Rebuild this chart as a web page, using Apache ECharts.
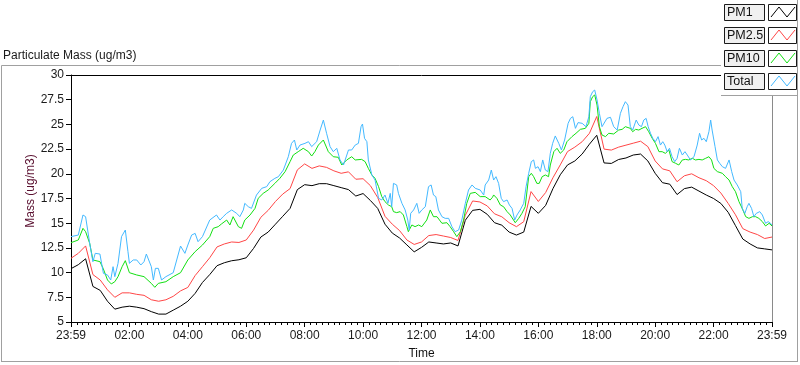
<!DOCTYPE html>
<html>
<head>
<meta charset="utf-8">
<script src="https://cdn.jsdelivr.net/npm/echarts@6/dist/echarts.min.js"></script>
<style>
html,body{margin:0;padding:0;background:#fff;}
#chart{width:800px;height:365px;}
</style>
</head>
<body>
<div id="chart"></div>
<script>
// Time axis in hours after 23:59 of the previous day (0 = 23:59, 24 = 23:59)
var seriesNames = ['PM1', 'PM2.5', 'PM10', 'Total'];
var seriesColors = ['#000000', '#ff4646', '#12e012', '#43b9ff'];

// PM1 and PM2.5: sampled every 15 minutes
var gridStepHours = 0.25;
var pm1 = [
10.4,10.8,11.4,8.6,8.2,7.1,6.3,6.5,6.6,6.5,6.35,6.05,5.8,5.8,6.2,6.6,7.1,7.9,9.0,9.8,
10.7,11.0,11.2,11.3,11.5,12.45,13.6,14.1,14.9,15.7,16.5,18.4,18.9,18.8,19.0,19.0,18.8,18.6,18.4,17.75,
18.0,17.3,16.5,14.9,14.0,13.5,12.8,12.1,12.55,13.1,13.0,12.9,13.0,12.7,15.3,16.3,16.4,15.9,15.05,14.8,
14.1,13.8,14.1,16.7,16.0,16.8,18.5,19.9,20.9,21.3,22.0,23.0,23.9,21.1,21.05,21.45,21.6,21.9,22.0,21.3,
20.05,19.1,18.95,17.9,18.5,18.65,18.25,17.85,17.5,17.0,16.1,14.75,13.4,12.9,12.5,12.4,12.3
];
var pm25 = [
11.45,11.95,12.7,9.8,9.25,8.25,7.5,7.95,7.95,7.8,7.7,7.25,7.1,7.25,7.6,8.15,8.5,9.7,10.6,11.5,
12.6,12.9,13.1,13.05,13.3,14.3,15.6,16.3,17.2,17.95,18.5,20.4,21.0,20.55,20.8,20.65,20.3,20.05,20.2,19.45,
19.5,18.8,17.6,15.7,14.9,14.25,13.3,12.85,13.1,13.75,13.85,13.7,13.55,13.25,15.8,17.25,17.15,16.75,15.95,15.65,
15.05,14.65,15.15,18.2,17.2,18.1,19.6,20.9,22.25,22.7,23.25,24.1,25.8,22.5,22.4,22.7,22.9,23.1,23.3,22.75,
21.3,20.5,20.3,19.2,19.8,20.0,19.6,19.3,18.8,18.05,17.0,15.85,14.45,14.1,13.85,13.45,13.6
];

// PM10: read at irregular times (hours)
var pm10Hours = [
0.00,0.25,0.41,0.50,0.64,0.75,0.99,1.10,1.25,1.38,1.50,1.61,1.75,1.86,2.00,2.25,2.50,2.75,2.87,2.99,
3.25,3.50,3.75,4.00,4.25,4.50,4.75,4.87,5.04,5.15,5.33,5.44,5.55,5.73,5.84,5.95,6.13,6.30,6.41,6.58,
6.75,6.98,7.15,7.33,7.50,7.61,7.78,7.95,8.13,8.24,8.35,8.47,8.64,8.81,8.98,9.15,9.27,9.44,9.61,9.73,
9.95,10.07,10.18,10.30,10.41,10.53,10.64,10.75,10.87,10.98,11.04,11.15,11.27,11.38,11.50,11.55,11.67,11.78,11.90,12.01,
12.18,12.30,12.41,12.53,12.70,12.87,12.98,13.10,13.21,13.33,13.44,13.55,13.67,13.84,14.01,14.18,14.35,14.43,14.47,14.58,
14.70,14.81,14.93,15.04,15.15,15.21,15.33,15.44,15.55,15.67,15.76,15.84,15.95,16.03,16.13,16.24,16.35,16.41,16.53,16.64,
16.75,16.87,16.98,17.15,17.29,17.44,17.61,17.73,17.78,17.86,17.93,18.01,18.09,18.18,18.30,18.41,18.58,18.75,18.87,18.98,
19.15,19.23,19.33,19.44,19.55,19.67,19.78,19.90,20.01,20.13,20.24,20.35,20.47,20.58,20.70,20.81,20.93,21.04,21.15,21.27,
21.38,21.50,21.61,21.73,21.84,21.93,22.01,22.13,22.30,22.41,22.53,22.64,22.75,22.87,22.98,23.10,23.21,23.33,23.44,23.55,
23.67,23.78,23.90,24.00
];
var pm10Values = [
13.03,13.30,14.48,14.14,12.96,11.28,11.11,10.43,9.25,8.85,9.08,9.59,10.60,11.21,9.99,9.76,9.59,8.91,8.51,8.91,
9.08,9.59,9.99,11.28,12.12,12.79,13.64,14.48,14.65,14.92,15.32,14.82,15.66,14.65,14.48,15.32,15.83,16.50,17.52,18.02,
18.36,19.03,19.54,20.22,21.23,21.90,22.24,22.58,22.24,21.80,22.24,22.91,23.42,22.24,21.73,21.67,20.89,21.40,21.73,21.40,
21.46,21.23,20.55,19.88,19.54,18.70,17.69,17.18,16.84,16.67,16.17,16.07,16.17,15.83,14.65,14.14,14.82,14.65,14.82,14.65,
15.32,16.34,15.66,15.66,14.99,15.05,14.65,14.14,13.64,14.14,15.32,17.01,18.02,18.12,17.69,17.69,17.35,17.62,17.86,17.52,
16.84,16.67,16.17,15.83,15.32,15.05,15.49,16.00,16.67,19.71,20.05,19.71,19.03,19.03,19.71,19.88,19.71,20.89,22.24,22.58,
22.07,22.41,23.25,23.76,24.10,24.50,24.60,25.11,27.30,27.81,27.98,26.96,24.77,23.93,23.76,24.10,24.03,24.43,24.50,24.77,
24.60,24.26,24.50,24.43,24.60,24.77,24.26,23.59,23.08,22.24,22.24,22.07,22.41,21.23,21.06,20.89,21.40,21.46,21.40,21.57,
21.40,21.46,21.40,21.57,21.73,21.40,20.55,20.22,20.05,19.71,19.37,18.70,18.19,17.18,16.50,15.66,15.49,15.66,15.66,15.49,
15.16,14.72,14.99,14.72
];

// Total: read at irregular times (hours)
var totalHours = [
0.00,0.25,0.41,0.50,0.64,0.75,0.83,0.99,1.11,1.25,1.36,1.44,1.50,1.61,1.73,1.86,1.95,2.00,2.13,2.25,
2.39,2.50,2.58,2.75,2.82,2.89,2.99,3.10,3.25,3.50,3.75,3.90,4.00,4.13,4.25,4.35,4.50,4.75,4.81,4.98,
5.10,5.21,5.33,5.50,5.67,5.78,5.90,5.95,6.07,6.18,6.35,6.53,6.70,6.81,6.98,7.10,7.27,7.44,7.55,7.65,
7.73,7.84,8.01,8.13,8.24,8.41,8.53,8.64,8.75,8.87,8.98,9.10,9.21,9.33,9.50,9.61,9.73,9.84,9.93,9.98,
10.05,10.13,10.18,10.30,10.41,10.53,10.64,10.75,10.85,10.93,10.98,11.04,11.15,11.21,11.33,11.44,11.53,11.58,11.63,11.73,
11.84,11.92,12.01,12.13,12.24,12.33,12.41,12.49,12.58,12.70,12.81,12.93,13.04,13.15,13.27,13.38,13.50,13.61,13.73,13.84,
14.01,14.13,14.18,14.30,14.39,14.47,14.55,14.64,14.73,14.81,14.93,15.01,15.10,15.19,15.27,15.38,15.50,15.58,15.67,15.76,
15.84,15.90,15.99,16.07,16.15,16.24,16.33,16.41,16.49,16.58,16.70,16.79,16.90,17.02,17.10,17.18,17.27,17.36,17.50,17.63,
17.73,17.78,17.86,17.93,18.01,18.09,18.18,18.24,18.35,18.47,18.58,18.70,18.81,18.90,18.98,19.07,19.15,19.23,19.35,19.44,
19.53,19.61,19.69,19.76,19.84,19.92,20.01,20.10,20.18,20.26,20.33,20.41,20.49,20.58,20.67,20.75,20.83,20.93,21.02,21.10,
21.21,21.33,21.44,21.52,21.59,21.67,21.75,21.84,21.90,21.95,22.05,22.13,22.21,22.30,22.41,22.53,22.62,22.70,22.81,22.93,
22.98,23.07,23.15,23.21,23.30,23.38,23.46,23.58,23.67,23.78,23.87,23.95,24.00
];
var totalValues = [
13.64,13.80,15.83,15.66,12.96,11.10,11.95,11.88,9.92,9.76,9.25,10.60,9.59,10.94,13.64,14.31,12.12,10.94,11.28,11.28,
10.77,11.10,11.88,10.60,9.25,10.43,10.43,9.25,9.59,9.99,12.69,11.95,12.79,13.80,13.97,13.13,13.64,15.32,15.49,15.83,
15.32,15.66,16.00,16.34,16.00,15.66,16.34,17.01,16.67,16.50,17.85,18.53,18.70,19.20,19.54,19.71,20.38,21.73,23.08,23.42,
22.41,22.91,23.08,23.25,22.75,23.25,24.43,25.44,24.10,22.75,22.24,22.58,21.40,20.89,22.41,22.41,22.91,23.08,24.77,25.04,
23.59,23.25,21.40,19.88,19.37,17.52,17.35,17.85,17.01,18.02,16.67,19.03,18.87,18.02,17.01,16.34,15.32,14.31,16.00,16.34,
17.01,16.00,16.34,16.67,18.70,18.87,17.85,17.69,16.34,15.66,15.49,15.49,14.65,14.14,14.31,15.32,17.01,18.36,18.87,18.53,
18.36,17.85,18.87,19.37,20.38,19.37,19.71,19.03,17.52,17.18,17.35,16.84,16.50,15.32,15.83,16.34,17.01,18.70,20.05,21.23,
21.40,20.55,20.72,20.22,21.40,20.38,20.22,22.07,23.08,23.83,23.08,22.41,23.42,25.11,25.61,25.78,24.60,25.18,25.11,24.77,
25.78,27.81,28.31,28.48,27.47,26.12,24.77,24.94,25.61,25.72,24.77,24.43,26.12,26.80,27.30,26.96,24.77,24.43,25.44,24.94,
24.77,25.44,25.61,24.77,24.10,23.59,23.25,23.76,22.91,23.25,22.91,22.24,22.58,21.73,21.23,21.56,22.58,21.90,22.24,21.90,
21.40,21.73,22.91,24.10,23.42,23.59,23.25,24.26,25.44,24.43,22.75,21.40,21.06,20.72,20.55,21.40,20.22,19.37,18.87,18.19,
16.50,15.99,16.67,17.01,16.50,15.66,15.99,16.17,15.83,14.99,15.16,14.99,14.82
];

var yMin = 5, yMax = 30, yStep = 2.5;
var xMin = 0, xMax = 24, xStep = 2;
var endLabel = '23:59';

var FONT = 'Liberation Sans, Arial, sans-serif';

function gridPairs(arr) {
  return arr.map(function (v, i) { return [i * gridStepHours, v]; });
}
function zipPairs(hours, vals) {
  return vals.map(function (v, i) { return [hours[i], v]; });
}

function xFmt(v) {
  if (v === xMin || v === xMax) return endLabel;
  var h = Math.round(v);
  return (h < 10 ? '0' : '') + h + ':00';
}

var allData = [gridPairs(pm1), gridPairs(pm25), zipPairs(pm10Hours, pm10Values), zipPairs(totalHours, totalValues)];

var series = allData.map(function (d, i) {
  return {
    name: seriesNames[i],
    type: 'line',
    xAxisIndex: 0,
    yAxisIndex: 0,
    data: d,
    showSymbol: false,
    symbol: 'none',
    smooth: false,
    lineStyle: { color: seriesColors[i], width: 1 },
    itemStyle: { color: seriesColors[i] },
    animation: false,
    z: 2 + i
  };
});

// Legend decoration (boxed labels with zig-zag swatches)
var legendChildren = [];
legendChildren.push({ type: 'rect', shape: { x: 721, y: 0, width: 79, height: 95 }, style: { fill: '#ffffff', stroke: null }, z: 100 });
legendChildren.push({ type: 'line', shape: { x1: 721, y1: 95.5, x2: 798, y2: 95.5 }, style: { stroke: '#a0a0a0', lineWidth: 1 }, z: 101 });
legendChildren.push({ type: 'line', shape: { x1: 797.5, y1: 0, x2: 797.5, y2: 362 }, style: { stroke: '#a0a0a0', lineWidth: 1 }, z: 101 });
var rowTops = [4, 27, 50, 73];
seriesNames.forEach(function (name, i) {
  var t = rowTops[i];
  legendChildren.push({ type: 'rect', shape: { x: 724.5, y: t + 0.5, width: 40, height: 16 }, style: { fill: '#f0f0f0', stroke: '#1a1a1a', lineWidth: 1 }, z: 102 });
  legendChildren.push({ type: 'text', x: 727, y: t + 9, style: { text: name, font: '12.5px ' + FONT, fill: '#111', verticalAlign: 'middle', align: 'left' }, z: 103 });
  legendChildren.push({ type: 'rect', shape: { x: 768.5, y: t + 0.5, width: 28, height: 16 }, style: { fill: '#ffffff', stroke: '#1a1a1a', lineWidth: 1 }, z: 102 });
  legendChildren.push({ type: 'polyline', shape: { points: [[771, t + 13], [779, t + 3], [787, t + 13], [795, t + 3]] }, style: { stroke: seriesColors[i], lineWidth: 1, fill: null }, z: 103 });
});

var option = {
  animation: false,
  backgroundColor: '#ffffff',
  title: {
    text: 'Particulate Mass (ug/m3)',
    left: 3, top: 50,
    padding: 0,
    textStyle: { fontSize: 12, fontWeight: 'normal', color: '#1a1a1a', fontFamily: FONT }
  },
  grid: { left: 71, right: 28, top: 75, bottom: 43, show: false },
  xAxis: [{
    type: 'value', min: xMin, max: xMax, interval: xStep,
    axisLine: { show: true, onZero: false, lineStyle: { color: '#000', width: 1 } },
    axisTick: { show: true, length: 5, inside: false, lineStyle: { color: '#000' } },
    minorTick: { show: true, splitNumber: 10, length: 3, lineStyle: { color: '#000' } },
    splitLine: { show: false },
    axisLabel: { formatter: xFmt, color: '#1a1a1a', fontSize: 12, fontFamily: FONT, margin: 8, showMinLabel: true, showMaxLabel: true },
    name: 'Time', nameLocation: 'middle', nameGap: 26,
    nameTextStyle: { color: '#111', fontSize: 12, fontFamily: FONT }
  }, {
    type: 'value', position: 'top', min: xMin, max: xMax, interval: xStep,
    axisLine: { show: true, onZero: false, lineStyle: { color: '#000', width: 1 } },
    axisTick: { show: false }, axisLabel: { show: false }, splitLine: { show: false }
  }],
  yAxis: [{
    type: 'value', min: yMin, max: yMax, interval: yStep,
    axisLine: { show: true, onZero: false, lineStyle: { color: '#000', width: 1 } },
    axisTick: { show: true, length: 5, lineStyle: { color: '#000' } },
    splitLine: { show: false },
    axisLabel: { color: '#1a1a1a', fontSize: 12, fontFamily: FONT, margin: 7, formatter: function (v) { return String(v); } }
  }, {
    type: 'value', position: 'right', min: yMin, max: yMax, interval: yStep,
    axisLine: { show: true, onZero: false, lineStyle: { color: '#8a8a8a', width: 1 } },
    axisTick: { show: false }, axisLabel: { show: false }, splitLine: { show: false }
  }],
  graphic: [
    { type: 'line', shape: { x1: 1.5, y1: 65.5, x2: 798, y2: 65.5 }, style: { stroke: '#a0a0a0', lineWidth: 1 }, z: 50 },
    { type: 'line', shape: { x1: 1.5, y1: 65.5, x2: 1.5, y2: 362 }, style: { stroke: '#a0a0a0', lineWidth: 1 }, z: 50 },
    { type: 'line', shape: { x1: 1.5, y1: 361.5, x2: 798, y2: 361.5 }, style: { stroke: '#a0a0a0', lineWidth: 1 }, z: 50 },
    { type: 'text', x: 31, y: 191, rotation: Math.PI / 2, style: { text: 'Mass (ug/m3)', font: '12px ' + FONT, fill: '#5a1030', align: 'center', verticalAlign: 'middle' }, z: 50 },
    { type: 'group', children: legendChildren, z: 100 }
  ],
  series: series
};

var chart = echarts.init(document.getElementById('chart'), null, { renderer: 'canvas' });
chart.setOption(option);
</script>
</body>
</html>
